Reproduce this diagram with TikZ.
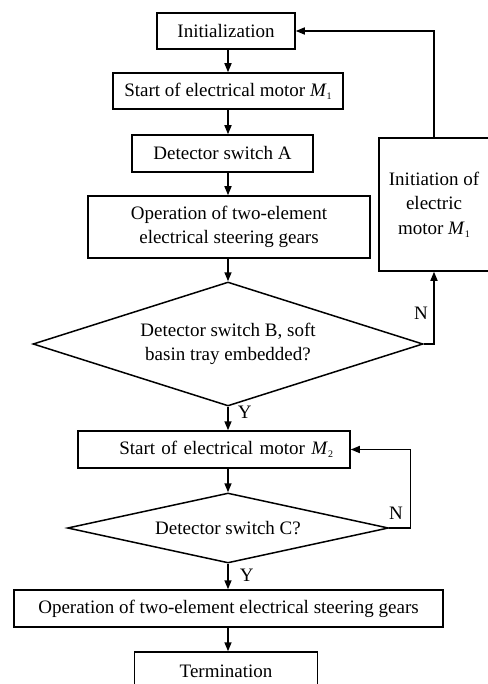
\documentclass[tikz,border=0pt]{standalone}
\usepackage{fontspec}
\setmainfont{Liberation Serif}
\usetikzlibrary{shapes.geometric,arrows.meta}

\newcommand{\motor}[1]{\textit{M}\raisebox{-0.35ex}{\fontsize{10}{10}\selectfont #1}}

\begin{document}
\begin{tikzpicture}[x=1pt,y=-1pt,
    box/.style={draw, line width=1.5pt, inner sep=0pt, align=center,
        font=\fontsize{19}{24.5}\selectfont},
    dec/.style={draw, diamond, aspect=3, line width=1.5pt, inner sep=0pt,
        align=center, font=\fontsize{19}{24.5}\selectfont},
    arr/.style={line width=1.5pt, -{Triangle[length=9pt,width=7pt]}},
    lbl/.style={inner sep=0pt, font=\fontsize{19}{22}\selectfont}]
    \useasboundingbox (0,0) rectangle (487,684);

    % main column
    \node[box, minimum width=138, minimum height=36] (init) at (226,31) {Initialization};
    \node[box, minimum width=230, minimum height=36] (m1) at (228,91) {Start of electrical motor \motor{1}};
    \node[box, minimum width=181, minimum height=37] (swA) at (222.5,153.5) {Detector switch A};
    \node[box, minimum width=282, minimum height=62] (op1) at (229,227) {Operation of two-element\\electrical steering gears};
    \node[dec, minimum width=390, minimum height=124] (swB) at (228,344) {Detector switch B, soft\\basin tray embedded?};
    \node[box, minimum width=272, minimum height=37, text width=238, align=right] (m2) at (214,449.5) {Start of electrical motor \motor{2}};
    \node[dec, minimum width=321, minimum height=70] (swC) at (228,528) {Detector switch C?};
    \node[box, minimum width=429, minimum height=37] (op2) at (228.5,608.5) {Operation of two-element electrical steering gears};
    \node[box, minimum width=183, minimum height=38] (term) at (226,671) {Termination};

    % side box
    \node[box, minimum width=110, minimum height=133] (m1b) at (434,204.5) {Initiation of\\electric\\motor \motor{1}};

    \coordinate (axis) at (228,0);

    \draw[arr] (init.south -| axis) -- (m1.north -| axis);
    \draw[arr] (m1.south -| axis) -- (swA.north -| axis);
    \draw[arr] (swA.south -| axis) -- (op1.north -| axis);
    \draw[arr] (op1.south -| axis) -- (swB.north);
    \draw[arr] (swB.south) -- node[lbl, anchor=west, pos=0.24, xshift=9pt] {Y} (m2.north -| axis);
    \draw[arr] (m2.south -| axis) -- (swC.north);
    \draw[arr] (swC.south) -- node[lbl, anchor=west, pos=0.47, xshift=11pt] {Y} (op2.north -| axis);
    \draw[arr] (op2.south -| axis) -- (term.north -| axis);

    % loops
    \draw[arr] (swB.east) -| (m1b.south);
    \draw[arr] (m1b.north) |- (init.east);
    \draw[arr] (swC.east) -- ++(21,0) |- (m2.east);
    \node[lbl] (nB) at (421,313) {N};
    \node[lbl] (nC) at (396,513) {N};
\end{tikzpicture}
\end{document}
